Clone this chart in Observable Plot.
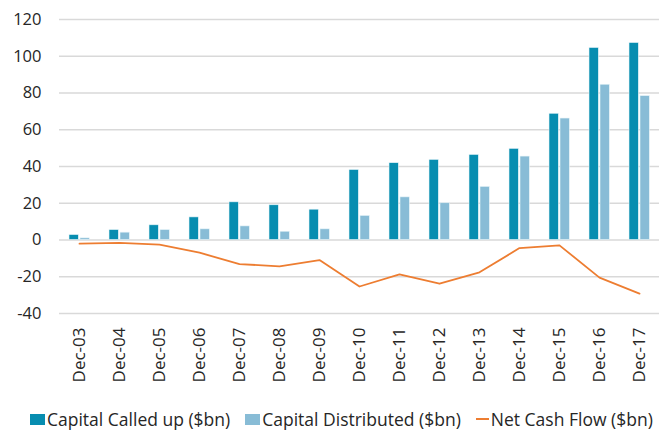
<!DOCTYPE html>
<html>
<head>
<meta charset="utf-8">
<script src="https://cdn.jsdelivr.net/npm/d3@7"></script>
<script src="https://cdn.jsdelivr.net/npm/@observablehq/plot@0.6"></script>
<style>
  html, body { margin: 0; padding: 0; background: #fff; }
  body { width: 668px; height: 432px; position: relative; overflow: hidden; font-family: "Open Sans", sans-serif; }
  #legend { position: absolute; left: 30px; top: 408px; height: 22px; display: flex; align-items: center; font-size: 17.5px; color: #262626; white-space: nowrap; }
  .item { display: flex; align-items: center; margin-right: 15px; }
  .sw { width: 15px; height: 11px; margin-right: 2px; }
  .ln { width: 13px; height: 2px; margin-right: 2px; background: #ED7D31; }
</style>
</head>
<body>
<div id="chart"></div>
<div id="legend"></div>
<script>
const dates = ["Dec-03","Dec-04","Dec-05","Dec-06","Dec-07","Dec-08","Dec-09","Dec-10","Dec-11","Dec-12","Dec-13","Dec-14","Dec-15","Dec-16","Dec-17"];
const called = [2.7, 5.4, 8.0, 12.3, 20.5, 18.9, 16.5, 38.1, 41.8, 43.6, 46.3, 49.6, 68.7, 104.5, 107.2];
const distributed = [0.9, 4.0, 5.4, 5.8, 7.4, 4.5, 5.8, 13.1, 23.2, 20.0, 28.9, 45.4, 66.1, 84.5, 78.3];
const net = [-2.0, -1.6, -2.5, -6.9, -13.1, -14.3, -10.9, -25.3, -18.7, -23.8, -17.6, -4.4, -2.9, -20.5, -29.2];
const yTicks = [-40, -20, 0, 20, 40, 60, 80, 100, 120];
const seriesNames = ["Capital Called up ($bn)", "Capital Distributed ($bn)", "Net Cash Flow ($bn)"];
const colors = ["#078DB0", "#88BCD6", "#ED7D31"];

const calledData = dates.map((d, i) => ({date: d, value: called[i]}));
const distData = dates.map((d, i) => ({date: d, value: distributed[i]}));
const netData = dates.map((d, i) => ({date: d, value: net[i]}));

const plot = Plot.plot({
  width: 668,
  height: 398,
  marginLeft: 59,
  marginRight: 9,
  marginTop: 19,
  marginBottom: 85,
  style: {fontFamily: "Open Sans, sans-serif", color: "#262626", background: "#fff"},
  x: {type: "band", domain: dates, paddingInner: 0, paddingOuter: 0, label: null},
  y: {domain: [-40, 120], label: null},
  marks: [
    Plot.ruleY(yTicks, {stroke: "#D9D9D9", strokeWidth: 1.3}),
    Plot.barY(calledData, {x: "date", y: "value", fill: colors[0], insetLeft: 10, insetRight: 20.7, stroke: "#E6F3F8", strokeWidth: 0.6}),
    Plot.barY(distData, {x: "date", y: "value", fill: colors[1], insetLeft: 21, insetRight: 9.7, stroke: "#E6F3F8", strokeWidth: 0.6}),
    Plot.line(netData, {x: "date", y: "value", stroke: colors[2], strokeWidth: 1.8}),
    Plot.axisY(yTicks, {tickSize: 0, tickPadding: 18, fontSize: 16.5, label: null, tickFormat: d => String(d)}),
    Plot.axisX({tickSize: 0, tickPadding: 14, tickRotate: -90, fontSize: 17, label: null})
  ]
});
document.getElementById("chart").appendChild(plot);

const legend = document.getElementById("legend");
seriesNames.forEach((name, i) => {
  const item = document.createElement("div");
  item.className = "item";
  const sw = document.createElement("div");
  if (i < 2) { sw.className = "sw"; sw.style.background = colors[i]; }
  else { sw.className = "ln"; }
  item.appendChild(sw);
  const t = document.createElement("span");
  t.textContent = name;
  item.appendChild(t);
  legend.appendChild(item);
});
</script>
</body>
</html>
